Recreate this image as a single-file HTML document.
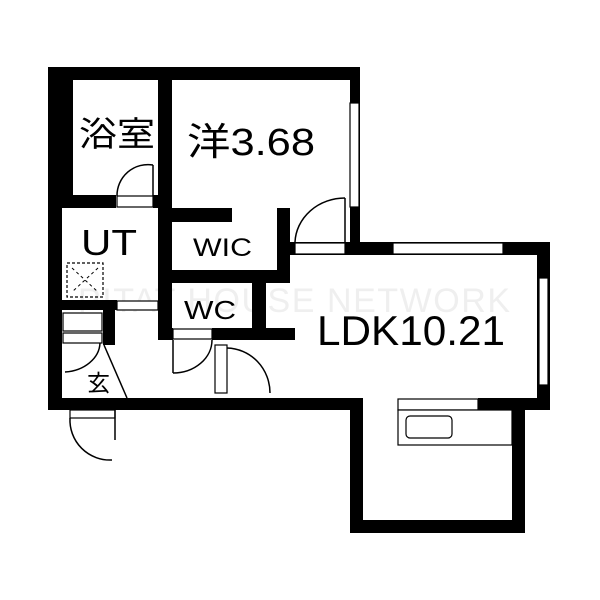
<!DOCTYPE html>
<html><head><style>body{margin:0;background:#fff}svg{display:block}text{font-family:"Liberation Sans","Noto Sans CJK JP",sans-serif}</style></head><body>
<svg width="600" height="600" viewBox="0 0 600 600" xmlns="http://www.w3.org/2000/svg">
<rect width="600" height="600" fill="#fff"/>
<text x="78" y="312" font-size="34" fill="#efefef" textLength="432">PITAT HOUSE NETWORK</text>
<g fill="#000">
<rect x="48" y="67" width="312" height="13"/>
<rect x="48" y="67" width="25" height="141"/>
<rect x="48" y="67" width="14" height="343"/>
<rect x="350" y="67" width="10" height="188"/>
<rect x="158" y="67" width="14" height="273"/>
<rect x="48" y="195" width="68" height="13"/>
<rect x="153" y="195" width="5" height="13"/>
<rect x="172" y="208" width="60" height="14"/>
<rect x="277" y="208" width="13" height="75"/>
<rect x="158" y="270" width="132" height="13"/>
<rect x="252" y="283" width="14" height="45"/>
<rect x="212" y="328" width="83" height="12"/>
<rect x="158" y="328" width="15" height="12"/>
<rect x="62" y="300" width="55" height="10"/>
<rect x="103" y="300" width="12" height="45"/>
<rect x="290" y="242" width="260" height="13"/>
<rect x="537" y="242" width="13" height="168"/>
<rect x="48" y="398" width="314" height="12"/>
<rect x="350" y="398" width="13" height="135"/>
<rect x="350" y="520" width="175" height="13"/>
<rect x="512" y="398" width="13" height="135"/>
<rect x="478" y="398" width="72" height="12"/>
</g>
<g fill="#fff" stroke="#000" stroke-width="1.2">
<rect x="350" y="103" width="9" height="104"/>
<rect x="117" y="196" width="36" height="11"/>
<rect x="117" y="301" width="41" height="9"/>
<rect x="295" y="243" width="50" height="11"/>
<rect x="393" y="243" width="110" height="11"/>
<rect x="539" y="278" width="9" height="107"/>
<rect x="398" y="399" width="80" height="11"/>
<rect x="173" y="329" width="39" height="10"/>
<rect x="215" y="345" width="12" height="48"/>
<rect x="63" y="313" width="39" height="18"/>
<rect x="63" y="333" width="39" height="10"/>
<rect x="398" y="410" width="114" height="35"/>
<rect x="406" y="416" width="46" height="22" rx="4"/>
<rect x="70" y="410" width="45" height="8"/>
</g>
<g fill="none" stroke="#000" stroke-width="1.5">
<line x1="153" y1="165" x2="153" y2="196"/>
<path d="M153 165 A31 31 0 0 0 117 196"/>
<line x1="345" y1="198" x2="345" y2="242"/>
<path d="M345 198 A50 46 0 0 0 295 242"/>
<line x1="173" y1="340" x2="173" y2="373"/>
<path d="M173 373 A39 33 0 0 0 212 340"/>
<path d="M227 348 A44 45 0 0 1 270 393"/>
<path d="M65 372 A38 30 0 0 0 100 343"/>
<line x1="104" y1="345" x2="127" y2="398"/>
<line x1="115" y1="410" x2="115" y2="440"/>
<path d="M70 418 A40 40 0 0 0 112 460"/>
<rect x="67" y="263" width="36" height="34" stroke-dasharray="3,2" stroke-width="1.2"/>
<path d="M72 268 L98 292 M98 268 L72 292" stroke-dasharray="3,3" stroke-width="1"/>
</g>
<g fill="#000">
<text x="79" y="146" font-size="34" textLength="76" lengthAdjust="spacingAndGlyphs">浴室</text>
<text x="187" y="155" font-size="38" textLength="128" lengthAdjust="spacingAndGlyphs">洋3.68</text>
<text x="81" y="255" font-size="36" textLength="56" lengthAdjust="spacingAndGlyphs">UT</text>
<text x="193" y="256" font-size="25" textLength="59" lengthAdjust="spacingAndGlyphs">WIC</text>
<text x="184" y="319" font-size="26" textLength="52" lengthAdjust="spacingAndGlyphs">WC</text>
<text x="317" y="345" font-size="42" textLength="188" lengthAdjust="spacingAndGlyphs">LDK10.21</text>
<text x="87" y="391" font-size="23">玄</text>
</g>
</svg>
</body></html>
